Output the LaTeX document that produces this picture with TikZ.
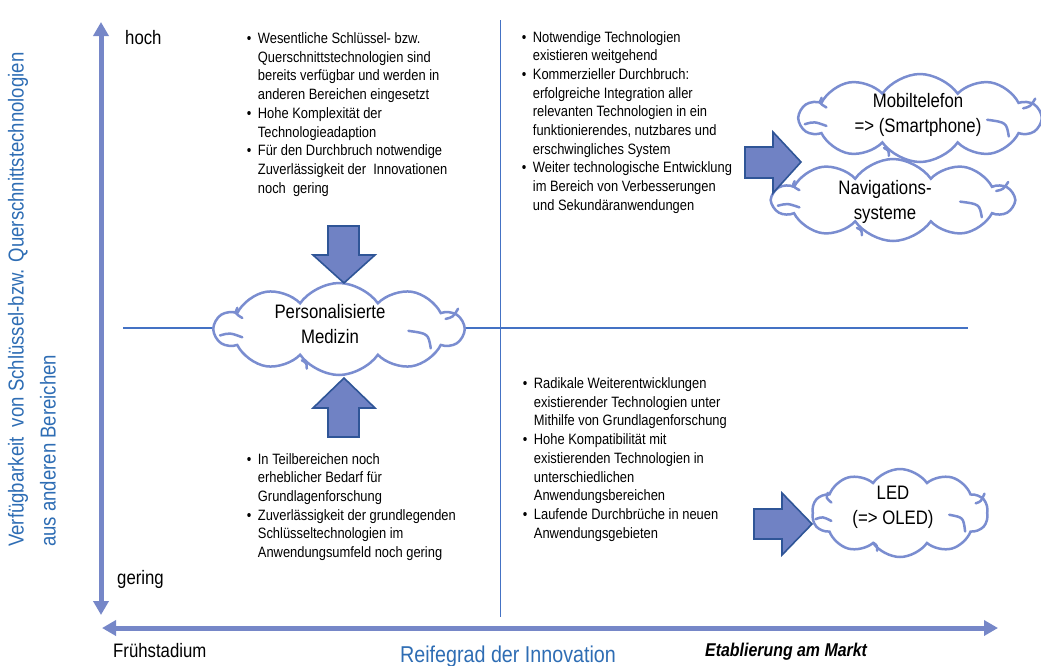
\documentclass[tikz,border=0pt]{standalone}
\usepackage{fontspec}
\setmainfont{Liberation Sans}[FakeStretch=0.86]
\usetikzlibrary{shapes.symbols,arrows.meta}
\definecolor{axiscol}{RGB}{118,135,200}
\definecolor{quadcol}{RGB}{68,114,196}
\definecolor{arrfill}{RGB}{112,130,196}
\definecolor{arrdraw}{RGB}{47,85,151}
\definecolor{cloudcol}{RGB}{122,141,208}
\definecolor{labcol}{RGB}{46,109,180}
\newcommand{\blist}[1]{\begin{tabular}[t]{@{}l@{\hspace{6.5pt}}l@{}}#1\end{tabular}}
\newcommand{\bu}{\textbullet}
% inner curls of a cloud, in unit coordinates round the cloud's centre
\newcommand{\cloudcurls}[3]{%
  \begin{scope}[shift={(#1.center)},x=#2pt,y=-#3pt]
    \draw[curl] (-0.48,0.07) .. controls (-0.44,0.04) .. (-0.39,0.09);
    \draw[curl] (-0.41,-0.23) .. controls (-0.42,-0.17) .. (-0.39,-0.12);
    \draw[curl] (-0.15,0.34) .. controls (-0.13,0.37) .. (-0.13,0.43);
    \draw[curl] (0.28,0.02) .. controls (0.36,0.05) .. (0.37,0.21);
    \draw[curl] (0.43,-0.11) .. controls (0.46,-0.13) .. (0.48,-0.22);
  \end{scope}}
\begin{document}
\begin{tikzpicture}[x=1pt,y=-1pt,
  axisline/.style={line width=5pt,draw=axiscol,{Triangle[width=15pt,length=14pt]}-{Triangle[width=15pt,length=14pt]}},
  quadline/.style={line width=1.2pt,draw=quadcol},
  textblock/.style={anchor=base west,inner sep=0pt,font=\fontsize{15}{18.7}\selectfont},
  cloudnode/.style={shape=cloud,cloud puffs=10,cloud puff arc=110,cloud ignores aspect,draw=cloudcol,line width=2.5pt,fill=white,align=center,inner sep=0pt},
  cloudtext/.style={font=\fontsize{19.5}{25}\selectfont,align=center,inner sep=0pt},
  curl/.style={draw=cloudcol,line width=2.5pt,line cap=round},
  blockarrow/.style={fill=arrfill,draw=arrdraw,line width=1.6pt,line join=miter},
  axislabel/.style={inner sep=0pt,font=\fontsize{19.5}{24}\selectfont},
  ylabel/.style={inner sep=0pt,rotate=90,anchor=mid west,text=labcol,font=\fontsize{21.6}{26}\selectfont}]
\useasboundingbox (0,0) rectangle (1041,665);

% quadrant lines
\coordinate (hl) at (123,328);
\coordinate (hr) at (968,328);
\coordinate (vt) at (500.5,20);
\coordinate (vb) at (500.5,617);
\draw[quadline] (hl) -- (hr);
\draw[quadline] (vt) -- (vb);

% axes
\coordinate (ytop) at (101,22);
\coordinate (ybot) at (101,615);
\coordinate (xleft) at (102,628);
\coordinate (xright) at (998,628);
\draw[axisline] (ytop) -- (ybot);
\draw[axisline] (xleft) -- (xright);

% axis labels
\node[axislabel,anchor=base west] (hoch) at (125,44) {hoch};
\node[axislabel,anchor=base west] (gering) at (117,584) {gering};
\node[axislabel,anchor=base west] (frueh) at (113,657) {Frühstadium};
\node[axislabel,anchor=base west,text=labcol,font=\fontsize{22.9}{26}\selectfont] (reife) at (400,662) {Reifegrad der Innovation};
\node[axislabel,anchor=base west,font=\fontsize{18.5}{22}\selectfont\bfseries\itshape] (etab) at (705,656) {Etablierung am Markt};
\node[ylabel] (yl1) at (21,547) {Verfügbarkeit\ \ von Schlüssel-bzw. Querschnittstechnologien};
\node[ylabel] (yl2) at (53,547) {aus anderen Bereichen};

% text blocks
\node[textblock] (tl) at (246.7,43.5) {\blist{
\bu & Wesentliche Schlüssel- bzw.\\
& Querschnittstechnologien sind\\
& bereits verfügbar und werden in\\
& anderen Bereichen eingesetzt\\
\bu & Hohe Komplexität der\\
& Technologieadaption\\
\bu & Für den Durchbruch notwendige\\
& Zuverlässigkeit der\ \ Innovationen\\
& noch\ \ gering}};
\node[textblock] (tr) at (521.7,42) {\blist{
\bu & Notwendige Technologien\\
& existieren weitgehend\\
\bu & Kommerzieller Durchbruch:\\
& erfolgreiche Integration aller\\
& relevanten Technologien in ein\\
& funktionierendes, nutzbares und\\
& erschwingliches System\\
\bu & Weiter technologische Entwicklung\\
& im Bereich von Verbesserungen\\
& und Sekundäranwendungen}};
\node[textblock] (bl) at (246.7,464) {\blist{
\bu & In Teilbereichen noch\\
& erheblicher Bedarf für\\
& Grundlagenforschung\\
\bu & Zuverlässigkeit der grundlegenden\\
& Schlüsseltechnologien im\\
& Anwendungsumfeld noch gering}};
\node[textblock] (br) at (522.7,388.5) {\blist{
\bu & Radikale Weiterentwicklungen\\
& existierender Technologien unter\\
& Mithilfe von Grundlagenforschung\\
\bu & Hohe Kompatibilität mit\\
& existierenden Technologien in\\
& unterschiedlichen\\
& Anwendungsbereichen\\
\bu & Laufende Durchbrüche in neuen\\
& Anwendungsgebieten}};

% clouds
\node[cloudnode,minimum width=248pt,minimum height=92pt] (pm) at (339,329) {};
\cloudcurls{pm}{248}{92}
\node[cloudtext] (pmt) at (330,324) {Personalisierte\\Medizin};
\node[cloudnode,minimum width=240pt,minimum height=88pt] (mob) at (920,118) {};
\cloudcurls{mob}{240}{88}
\node[cloudtext] (mobt) at (918,114.5) {Mobiltelefon\\=> (Smartphone)};
\node[cloudnode,minimum width=240pt,minimum height=82pt] (nav) at (893,200) {};
\cloudcurls{nav}{240}{82}
\node[cloudtext] (navt) at (885,201.5) {Navigations-\\systeme};
\node[cloudnode,minimum width=176pt,minimum height=88pt] (led) at (900,513) {};
\cloudcurls{led}{176}{88}
\node[cloudtext] (ledt) at (893,507.5) {LED\\(=> OLED)};

% block arrows
\draw[blockarrow] (328,226) -- (359,226) -- (359,255) -- (375,255) -- (344,283) -- (313,255) -- (328,255) -- cycle;
\draw[blockarrow] (328,437) -- (359,437) -- (359,408) -- (375,408) -- (344,378) -- (313,408) -- (328,408) -- cycle;
\draw[blockarrow] (745,147) -- (773,147) -- (773,132) -- (801,162) -- (773,193) -- (773,178) -- (745,178) -- cycle;
\draw[blockarrow] (754,509) -- (782,509) -- (782,493) -- (812,524) -- (782,555) -- (782,539) -- (754,539) -- cycle;
\end{tikzpicture}
\end{document}
